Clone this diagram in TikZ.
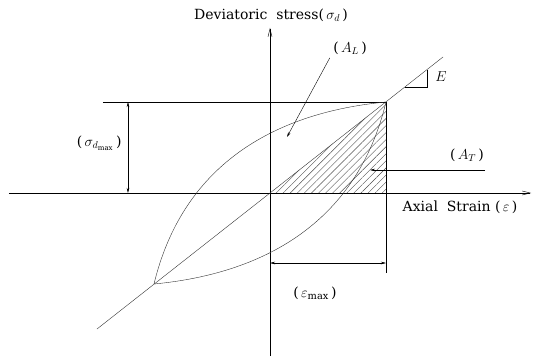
\documentclass[tikz,border=0pt]{standalone}
\usepackage{amsmath,amssymb}
\usepackage{fontspec}
\setmainfont{DejaVu Serif}
\usetikzlibrary{arrows.meta,patterns,patterns.meta,calc,positioning}

\begin{document}
\begin{tikzpicture}[x=1pt,y=1pt,font=\fontsize{14}{16}\selectfont]

	\useasboundingbox (-270,-163) rectangle (265,193);

	\coordinate (O) at (0,0);
	\coordinate (P) at (116,91);
	\coordinate (T) at (-116,-91);
	\coordinate (Q) at (116,0);

	\fill[pattern={Lines[angle=45,distance=5pt,line width=0.4pt]},pattern color=black!70] (O) -- (P) -- (Q) -- cycle;

	\coordinate (xlo) at (-261,0);
	\coordinate (xhi) at (261,0);
	\coordinate (ylo) at (0,-163);
	\coordinate (yhi) at (0,165);
	\draw[-{Straight Barb[length=8pt,width=4pt]}] (xlo) -- (xhi);
	\draw[-{Straight Barb[length=8pt,width=4pt]}] (ylo) -- (yhi);

	\coordinate (dlo) at (-173,-136);
	\coordinate (dhi) at (173,136);
	\draw[black!80] (dlo) -- (dhi);

	\coordinate (topl) at (-167,91);
	\coordinate (vbot) at (116,-80);
	\draw (topl) -- (P) -- (vbot);

	\draw[black!80] (T) .. controls (-88,25) and (0,80) .. (P);
	\draw[black!80] (T) .. controls (0,-80) and (88,-25) .. (P);

	\coordinate (s1) at (-142,91);
	\coordinate (s2) at (-142,0);
	\draw[{Stealth[length=5pt,width=2.5pt]}-{Stealth[length=5pt,width=2.5pt]}] (s1) -- (s2);
	\coordinate (e1) at (0,-70);
	\coordinate (e2) at (116,-70);
	\draw[{Stealth[length=5pt,width=2.5pt]}-{Stealth[length=5pt,width=2.5pt]}] (e1) -- (e2);

	\coordinate (k1) at (135,106);
	\coordinate (k2) at (157,106);
	\coordinate (k3) at (157,123);
	\draw (k1) -- (k2) -- (k3);

	\node (ylab) at (1,178) {Deviatoric\ \ stress(\,$\sigma_{d}$\,)};
	\node (xlab) at (190,-14) {Axial\ \ Strain\ (\,$\varepsilon$\,)};
	\node (AL) at (80,145) {(\,$A_{L}$\,)};
	\node (AT) at (197,38) {(\,$A_{T}$\,)};
	\node (E) at (171,116) {$E$};
	\node[anchor=east] (smax) at (-145,50) {(\,$\sigma_{d_{\max}}$\,)};
	\node (emax) at (45,-100) {(\,$\varepsilon_{\max}$\,)};

	\coordinate (ALtip) at (17,56);
	\draw[-{Stealth[length=5pt,width=2.5pt]}] (AL.south west) -- (ALtip);
	\coordinate (ATs) at (215,23);
	\coordinate (ATtip) at (100,23);
	\draw[-{Stealth[length=5pt,width=2.5pt]}] (ATs) -- (ATtip);

\end{tikzpicture}
\end{document}
